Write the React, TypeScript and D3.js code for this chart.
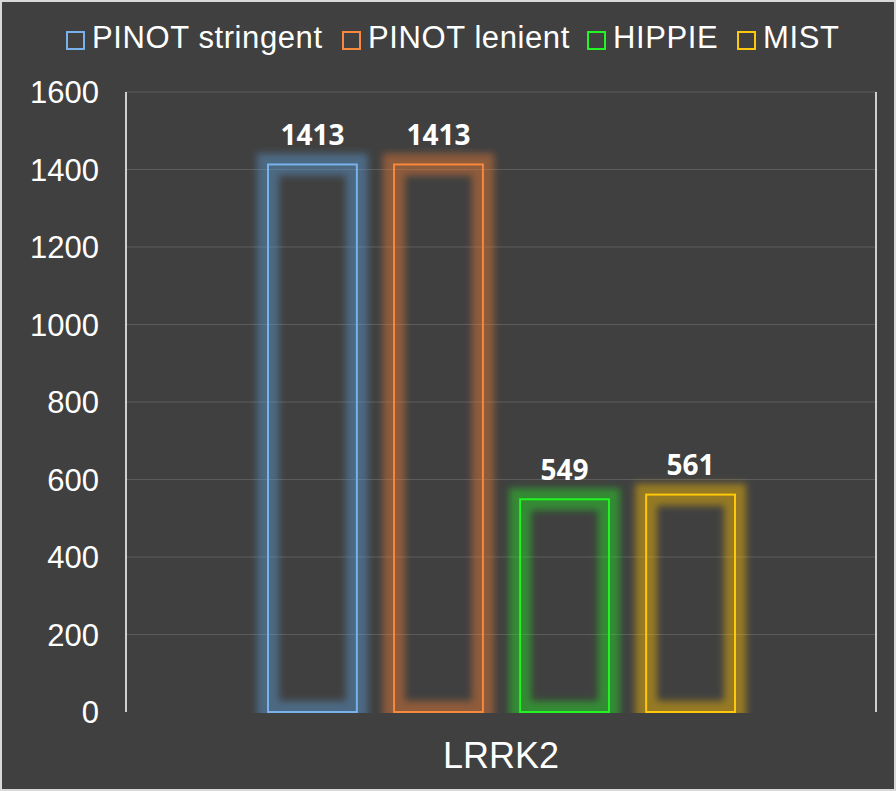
import React from 'react';
import {scaleBand, scaleLinear} from 'd3';

const categories = ['LRRK2'];
const seriesNames = ['PINOT stringent', 'PINOT lenient', 'HIPPIE', 'MIST'];
const seriesValues = [1413, 1413, 549, 561];
const seriesColors = ['#5B9BD5', '#ED7D31', '#1EE61E', '#FFC000'];
const lineColors = ['#79b1ea', '#f8893c', '#22f522', '#ffc80a'];
const yTicks = [0, 200, 400, 600, 800, 1000, 1200, 1400, 1600];

const width = 896;
const height = 791;
const plot = {left: 126, right: 876, top: 92, bottom: 712};

export default function App() {
  const x0 = scaleBand<string>()
    .domain(categories)
    .range([plot.left, plot.right]);

  const x1 = scaleBand<string>()
    .domain(seriesNames)
    .range([268, 735])
    .paddingInner(0.295);

  const y = scaleLinear()
    .domain([0, 1600])
    .range([plot.bottom, plot.top]);

  const legendX = [66, 342, 587, 737];

  return (
    <svg
      width={width}
      height={height}
      style={{position: 'absolute', left: 0, top: 0}}
      fontFamily="'Liberation Sans', Arial, sans-serif"
    >
      <defs>
        <filter id="glow" x="-40%" y="-40%" width="180%" height="180%">
          <feGaussianBlur stdDeviation="3.5" />
        </filter>
        <clipPath id="plotClip">
          <rect x={0} y={0} width={width} height={plot.bottom + 1} />
        </clipPath>
      </defs>
      <rect x={1} y={1} width={width - 2} height={height - 2} fill="#404040" stroke="#d9d9d9" strokeWidth={2} />

      {/* legend */}
      {seriesNames.map((name, i) => (
        <g key={name} transform={`translate(${legendX[i]}, 48)`}>
          <rect x={1} y={-16} width={17} height={17} fill="none" stroke={lineColors[i]} strokeWidth={2} />
          <text x={26} y={0} fill="#ffffff" fontSize={31} letterSpacing={0.6}>{name}</text>
        </g>
      ))}

      {/* gridlines */}
      {yTicks.map((t) => (
        <g key={t}>
          {t > 0 && (
            <line x1={plot.left} x2={plot.right} y1={y(t)} y2={y(t)} stroke="#5c5c5c" strokeWidth={1} />
          )}
          <text x={99} y={y(t)} dy="0.36em" textAnchor="end" fill="#ffffff" fontSize={31}>{t}</text>
        </g>
      ))}
      <line x1={plot.left} x2={plot.left} y1={plot.top} y2={plot.bottom} stroke="#ffffff" strokeWidth={1.5} />
      <line x1={plot.right} x2={plot.right} y1={plot.top} y2={plot.bottom} stroke="#ffffff" strokeWidth={1.5} />

      {/* bars */}
      {seriesNames.map((name, i) => {
        const bx = x1(name)!;
        const bw = x1.bandwidth();
        const by = y(seriesValues[i]);
        const bh = plot.bottom - by;
        return (
          <g key={name}>
            <g clipPath="url(#plotClip)">
              <rect
                x={bx}
                y={by}
                width={bw}
                height={bh}
                fill="none"
                stroke={seriesColors[i]}
                strokeOpacity={0.45}
                strokeWidth={22}
                filter="url(#glow)"
              />
            </g>
            <rect x={bx} y={by} width={bw} height={bh} fill="none" stroke={lineColors[i]} strokeWidth={2} />
            <text
              x={bx + bw / 2}
              y={by - 19.5}
              textAnchor="middle"
              fill="#ffffff"
              fontSize={28}
              fontWeight="bold"
              fontFamily="'Open Sans', 'DejaVu Sans', sans-serif"
            >{seriesValues[i]}</text>
          </g>
        );
      })}

      {/* category label */}
      {categories.map((c) => (
        <text key={c} x={x0(c)! + x0.bandwidth() / 2} y={768} textAnchor="middle" fill="#ffffff" fontSize={36}>{c}</text>
      ))}
    </svg>
  );
}
